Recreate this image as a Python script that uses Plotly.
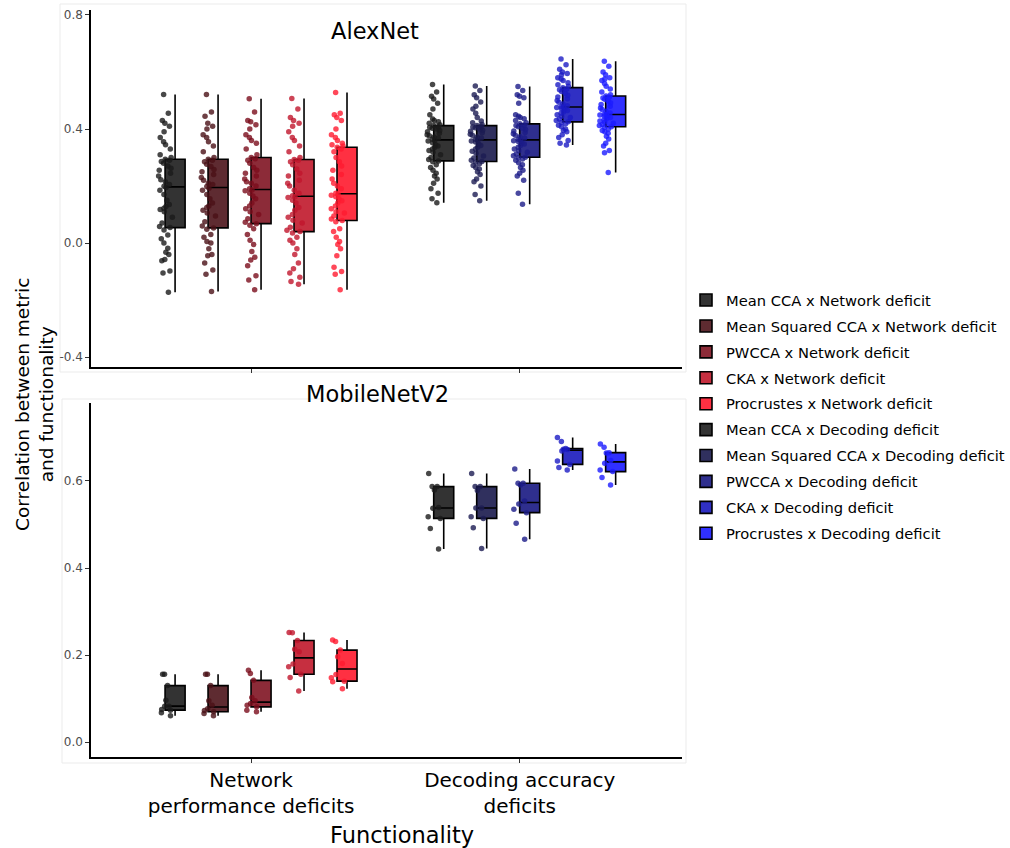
import plotly.graph_objects as go

# ---------------- data ----------------
categories = ["Network performance deficits", "Decoding accuracy deficits"]
category_labels = ["Network<br>performance deficits", "Decoding accuracy<br>deficits"]
metrics = ["Mean CCA", "Mean Squared CCA", "PWCCA", "CKA", "Procrustes"]
deficit_names = ["Network deficit", "Decoding deficit"]

top_ticks = [-0.4, 0.0, 0.4, 0.8]
top_ticktext = ["-0.4", "0.0", "0.4", "0.8"]
bottom_ticks = [0.0, 0.2, 0.4, 0.6]
bottom_ticktext = ["0.0", "0.2", "0.4", "0.6"]

# AlexNet, network performance deficits
alex_net_meancca = [-0.173, -0.105, -0.098, -0.062, -0.058, -0.04, -0.032, -0.018, 0.0, 0.015, 0.028, 0.046,
                    0.054, 0.058, 0.07, 0.09, 0.11, 0.118, 0.122, 0.128, 0.135, 0.15, 0.17, 0.185,
                    0.195, 0.199, 0.205, 0.215, 0.222, 0.235, 0.245, 0.255, 0.262, 0.27, 0.28, 0.286,
                    0.29, 0.294, 0.3, 0.31, 0.33, 0.345, 0.355, 0.37, 0.39, 0.41, 0.42, 0.43, 0.455, 0.521]
alex_net_msqcca = [-0.170, -0.11, -0.095, -0.07, -0.045, -0.04, -0.02, 0.0, 0.005, 0.02, 0.03, 0.048,
                   0.053, 0.06, 0.075, 0.095, 0.105, 0.115, 0.125, 0.13, 0.14, 0.155, 0.17, 0.185,
                   0.192, 0.198, 0.205, 0.21, 0.22, 0.23, 0.24, 0.25, 0.258, 0.268, 0.276, 0.285,
                   0.29, 0.294, 0.3, 0.32, 0.34, 0.355, 0.37, 0.38, 0.4, 0.41, 0.42, 0.445, 0.46, 0.521]
alex_net_pwcca = [-0.164, -0.13, -0.115, -0.08, -0.06, -0.05, -0.03, -0.005, 0.01, 0.03, 0.05, 0.062,
                  0.068, 0.073, 0.085, 0.1, 0.11, 0.12, 0.13, 0.14, 0.155, 0.165, 0.175, 0.183,
                  0.186, 0.19, 0.2, 0.21, 0.215, 0.225, 0.235, 0.245, 0.255, 0.265, 0.28, 0.29,
                  0.296, 0.3, 0.31, 0.33, 0.35, 0.36, 0.37, 0.38, 0.4, 0.415, 0.425, 0.43, 0.46, 0.506]
alex_net_cka = [-0.145, -0.135, -0.12, -0.105, -0.09, -0.07, -0.04, -0.02, 0.0, 0.01, 0.02, 0.035,
                0.04, 0.045, 0.055, 0.07, 0.08, 0.09, 0.1, 0.115, 0.125, 0.14, 0.15, 0.16,
                0.162, 0.166, 0.175, 0.185, 0.2, 0.21, 0.22, 0.235, 0.245, 0.26, 0.275, 0.285,
                0.29, 0.293, 0.3, 0.32, 0.34, 0.36, 0.37, 0.39, 0.41, 0.42, 0.43, 0.44, 0.47, 0.507]
alex_net_procrustes = [-0.164, -0.11, -0.1, -0.085, -0.045, -0.02, -0.005, 0.005, 0.02, 0.04, 0.05, 0.075,
                       0.079, 0.084, 0.095, 0.105, 0.11, 0.12, 0.13, 0.14, 0.148, 0.155, 0.162, 0.168,
                       0.171, 0.175, 0.19, 0.2, 0.21, 0.225, 0.24, 0.255, 0.27, 0.285, 0.3, 0.32,
                       0.33, 0.336, 0.34, 0.345, 0.35, 0.36, 0.37, 0.38, 0.4, 0.43, 0.44, 0.45, 0.455, 0.528]

# AlexNet, decoding accuracy deficits
alex_dec_meancca = [0.141, 0.155, 0.175, 0.19, 0.21, 0.225, 0.235, 0.245, 0.255, 0.265, 0.275, 0.285,
                    0.288, 0.293, 0.3, 0.31, 0.318, 0.325, 0.33, 0.335, 0.34, 0.345, 0.352, 0.358,
                    0.36, 0.364, 0.368, 0.372, 0.376, 0.38, 0.385, 0.39, 0.395, 0.4, 0.403, 0.406,
                    0.408, 0.412, 0.415, 0.42, 0.425, 0.43, 0.435, 0.45, 0.47, 0.49, 0.505, 0.515, 0.53, 0.556]
alex_dec_msqcca = [0.148, 0.17, 0.2, 0.215, 0.225, 0.24, 0.25, 0.26, 0.265, 0.272, 0.278, 0.283,
                   0.286, 0.29, 0.298, 0.305, 0.315, 0.322, 0.33, 0.336, 0.342, 0.348, 0.354, 0.358,
                   0.36, 0.364, 0.368, 0.372, 0.378, 0.382, 0.387, 0.392, 0.396, 0.4, 0.404, 0.407,
                   0.408, 0.412, 0.416, 0.422, 0.428, 0.44, 0.455, 0.47, 0.48, 0.495, 0.51, 0.52, 0.535, 0.551]
alex_dec_pwcca = [0.136, 0.175, 0.22, 0.235, 0.245, 0.255, 0.265, 0.275, 0.282, 0.29, 0.295, 0.299,
                  0.301, 0.306, 0.312, 0.318, 0.324, 0.33, 0.336, 0.342, 0.347, 0.352, 0.356, 0.359,
                  0.36, 0.364, 0.368, 0.373, 0.378, 0.383, 0.388, 0.393, 0.398, 0.403, 0.408, 0.412,
                  0.414, 0.418, 0.422, 0.43, 0.436, 0.44, 0.445, 0.45, 0.49, 0.51, 0.515, 0.52, 0.535, 0.549]
alex_dec_cka = [0.344, 0.35, 0.36, 0.37, 0.38, 0.39, 0.395, 0.4, 0.408, 0.413, 0.418, 0.423,
                0.425, 0.43, 0.435, 0.44, 0.445, 0.45, 0.455, 0.46, 0.465, 0.468, 0.472, 0.475,
                0.476, 0.478, 0.482, 0.488, 0.494, 0.5, 0.506, 0.512, 0.518, 0.525, 0.532, 0.538,
                0.54, 0.545, 0.55, 0.555, 0.562, 0.57, 0.575, 0.58, 0.59, 0.595, 0.6, 0.61, 0.625, 0.646]
alex_dec_procrustes = [0.247, 0.317, 0.325, 0.34, 0.35, 0.365, 0.375, 0.385, 0.39, 0.395, 0.4, 0.405,
                       0.408, 0.412, 0.416, 0.42, 0.424, 0.428, 0.432, 0.436, 0.44, 0.443, 0.446, 0.449,
                       0.45, 0.452, 0.456, 0.462, 0.468, 0.474, 0.48, 0.486, 0.492, 0.498, 0.504, 0.509,
                       0.512, 0.516, 0.52, 0.53, 0.54, 0.55, 0.56, 0.57, 0.575, 0.58, 0.59, 0.6, 0.62, 0.638]

# MobileNetV2, network performance deficits
mob_net_meancca = [0.156, 0.156, 0.130, 0.0966, 0.0828, 0.0751, 0.0675, 0.0605, 0.0736, 0.0828]
mob_net_msqcca = [0.156, 0.156, 0.130, 0.095, 0.085, 0.073, 0.070, 0.066, 0.0605, 0.077]
mob_net_pwcca = [0.165, 0.1577, 0.142, 0.1029, 0.095, 0.0812, 0.0736, 0.070, 0.089, 0.0851]
mob_net_cka = [0.2515, 0.252, 0.2335, 0.2137, 0.1793, 0.173, 0.208, 0.156, 0.1487, 0.1177]
mob_net_procrustes = [0.2345, 0.2314, 0.2115, 0.196, 0.1808, 0.1556, 0.1402, 0.139, 0.1226, 0.148]

# MobileNetV2, decoding accuracy deficits
mob_dec_meancca = [0.617, 0.579, 0.587, 0.587, 0.537, 0.539, 0.518, 0.514, 0.491, 0.4437]
mob_dec_msqcca = [0.617, 0.587, 0.587, 0.578, 0.538, 0.538, 0.518, 0.514, 0.4926, 0.445]
mob_dec_pwcca = [0.6276, 0.5947, 0.5947, 0.5909, 0.554, 0.547, 0.5349, 0.5272, 0.5027, 0.466]
mob_dec_cka = [0.6997, 0.6905, 0.669, 0.672, 0.646, 0.638, 0.625, 0.631, 0.6745, 0.673]
mob_dec_procrustes = [0.685, 0.6775, 0.665, 0.664, 0.647, 0.6406, 0.6253, 0.6215, 0.6077, 0.5908]

alex_series = [
    [alex_net_meancca, alex_net_msqcca, alex_net_pwcca, alex_net_cka, alex_net_procrustes],
    [alex_dec_meancca, alex_dec_msqcca, alex_dec_pwcca, alex_dec_cka, alex_dec_procrustes],
]
mob_series = [
    [mob_net_meancca, mob_net_msqcca, mob_net_pwcca, mob_net_cka, mob_net_procrustes],
    [mob_dec_meancca, mob_dec_msqcca, mob_dec_pwcca, mob_dec_cka, mob_dec_procrustes],
]

# ---------------- styles ----------------
point_colors = [
    ["#1a1a1a", "#4a1016", "#7a0d1c", "#c0152c", "#ff1a30"],
    ["#1a1a1a", "#1c1c52", "#1c1c88", "#1c1cc4", "#1c1cff"],
]
fill_colors = [
    ["#333333", "#5e2b31", "#8c2b38", "#c62f40", "#ff3042"],
    ["#333333", "#30305e", "#2f2f8e", "#3030c4", "#3030ff"],
]

FONT = "DejaVu Sans"
W, H = 1010, 848
TICK_SHIFT = -0.037  # category ticks sit slightly left of the dodged boxes

def px_x(p):
    return p / W

def px_y(p):
    return 1 - p / H

fig = go.Figure()

for panel, series, xa, ya in [(0, alex_series, "x", "y"), (1, mob_series, "x2", "y2")]:
    for d in range(2):
        for m in range(5):
            vals = series[d][m]
            name = f"{metrics[m]} x {deficit_names[d]}"
            fig.add_trace(go.Box(
                x=[d] * len(vals),
                y=vals,
                name=name,
                legendgroup=name,
                showlegend=(panel == 0),
                offsetgroup=str(m),
                xaxis=xa, yaxis=ya,
                boxpoints="all",
                jitter=0.85,
                pointpos=-0.9,
                whiskerwidth=0,
                quartilemethod="linear",
                fillcolor=fill_colors[d][m],
                line=dict(color="black", width=1.6),
                marker=dict(color=point_colors[d][m], size=5.5, opacity=0.8),
                hoverinfo="y+name",
            ))

cat_tickvals = [i + TICK_SHIFT for i in range(len(categories))]

x_dom = [px_x(91), px_x(682)]
common_x = dict(
    type="linear", range=[-0.633, 1.567], domain=x_dom,
    tickmode="array", tickvals=cat_tickvals,
    showline=True, linecolor="black", linewidth=1.5,
    ticks="outside", ticklen=4, tickcolor="#333333", tickwidth=1,
    showgrid=False, zeroline=False,
)
common_y = dict(
    showline=True, linecolor="black", linewidth=1.5,
    ticks="outside", ticklen=4, tickcolor="#333333", tickwidth=1,
    tickfont=dict(family=FONT, size=12, color="#4d4d4d"),
    showgrid=False, zeroline=False, tickmode="array",
)

fig.update_layout(
    width=W, height=H,
    margin=dict(l=0, r=0, t=0, b=0, autoexpand=False),
    paper_bgcolor="white", plot_bgcolor="white",
    font=dict(family=FONT, color="black"),
    boxmode="group", boxgap=0.2, boxgroupgap=0.534,
    xaxis=dict(**common_x, anchor="y", showticklabels=False),
    yaxis=dict(**common_y, anchor="x", domain=[px_y(367), px_y(10)],
               range=[-0.435, 0.8175], tickvals=top_ticks, ticktext=top_ticktext),
    xaxis2=dict(**common_x, anchor="y2", showticklabels=True,
                ticktext=category_labels,
                tickfont=dict(family=FONT, size=20, color="black")),
    yaxis2=dict(**common_y, anchor="x2", domain=[px_y(757), px_y(403)],
                range=[-0.034, 0.779], tickvals=bottom_ticks, ticktext=bottom_ticktext),
    showlegend=True,
    legend=dict(
        x=px_x(686), y=px_y(284), xanchor="left", yanchor="top",
        font=dict(family=FONT, size=14.7, color="black"),
        tracegroupgap=3.8, bgcolor="rgba(0,0,0,0)", borderwidth=0,
    ),
    shapes=[
        dict(type="rect", xref="paper", yref="paper", x0=px_x(60), x1=px_x(686),
             y0=px_y(372), y1=px_y(4), line=dict(color="#ebebeb", width=1), layer="below"),
        dict(type="rect", xref="paper", yref="paper", x0=px_x(62), x1=px_x(686),
             y0=px_y(763), y1=px_y(399), line=dict(color="#ebebeb", width=1), layer="below"),
    ],
    annotations=[
        dict(text="AlexNet", x=px_x(375), y=px_y(31), xref="paper", yref="paper",
             xanchor="center", yanchor="middle",
             showarrow=False, font=dict(family=FONT, size=22.5, color="black")),
        dict(text="MobileNetV2", x=px_x(377), y=px_y(394), xref="paper", yref="paper",
             xanchor="center", yanchor="middle",
             showarrow=False, font=dict(family=FONT, size=22.5, color="black")),
        dict(text="Functionality", x=px_x(402), y=px_y(835), xref="paper", yref="paper",
             xanchor="center", yanchor="middle",
             showarrow=False, font=dict(family=FONT, size=22.5, color="black")),
        dict(text="Correlation between metric<br>and functionality", x=px_x(34), y=px_y(405),
             xref="paper", yref="paper", textangle=-90, showarrow=False,
             xanchor="center", yanchor="middle",
             font=dict(family=FONT, size=18.5, color="black")),
    ],
)

fig.write_html("out.html", config={"displayModeBar": False},
               post_script="document.body.style.margin='0px';")
